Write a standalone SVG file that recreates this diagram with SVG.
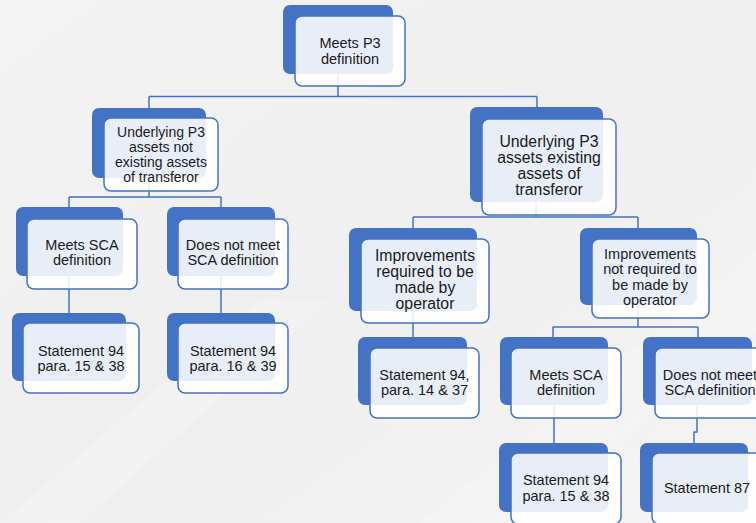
<svg xmlns="http://www.w3.org/2000/svg" width="756" height="523" viewBox="0 0 756 523">
<defs>
<linearGradient id="bg" x1="0" y1="0" x2="1" y2="1">
<stop offset="0" stop-color="#f3f3f3"/>
<stop offset="0.5" stop-color="#efefef"/>
<stop offset="1" stop-color="#f4f4f4"/>
</linearGradient>
<style>
.back{fill:#4472c4;}
.front{fill:#ffffff;fill-opacity:0.88;stroke:#4472c4;stroke-width:1.5;}
.conn{fill:none;stroke:#4472c4;stroke-width:1.5;}
text{font-family:"Liberation Sans",Arial,sans-serif;font-size:14.5px;fill:#1a1a1a;text-anchor:middle;}
.big{font-size:15.8px;}
.tight{font-size:14px;}
</style>
</defs>
<rect x="0" y="0" width="756" height="523" fill="url(#bg)"/>
<polygon points="0,523 260,300 330,300 80,523" fill="#ffffff" opacity="0.2"/>
<polygon points="420,523 756,250 756,330 520,523" fill="#ffffff" opacity="0.18"/>
<g id="connectors">
<path class="conn" d="M338,74 V96.5 M149,96.5 H537 M149,96.5 V108 M537,96.5 V107"/>
<path class="conn" d="M149,178 V197 M69,197 H221 M69,197 V207 M221,197 V207"/>
<path class="conn" d="M69,276 V313 M221,276 V313"/>
<path class="conn" d="M536,202 V217 M413,217 H638 M413,217 V228 M638,217 V228"/>
<path class="conn" d="M413,311 V337"/>
<path class="conn" d="M638,305 V327 M553,327 H698 M553,327 V337 M698,327 V337"/>
<path class="conn" d="M554,405 V443 M697,405 V432 H694 V443"/>
</g>
<g id="n1">
<rect class="back" x="283" y="5" width="110" height="69" rx="7"/>
<rect class="front" x="295" y="16" width="110" height="70" rx="7"/>
<text x="350" y="48">Meets P3</text>
<text x="350" y="64">definition</text>
</g>
<g id="n2">
<rect class="back" x="92" y="108" width="114" height="70" rx="7"/>
<rect class="front" x="104" y="118" width="114" height="73" rx="7"/>
<text class="tight" x="161" y="137">Underlying P3</text>
<text class="tight" x="161" y="152">assets not</text>
<text class="tight" x="161" y="167">existing assets</text>
<text class="tight" x="161" y="182">of transferor</text>
</g>
<g id="n3">
<rect class="back" x="470" y="107" width="133" height="95" rx="7"/>
<rect class="front" x="482" y="119" width="134" height="96" rx="7"/>
<text class="big" x="549" y="147">Underlying P3</text>
<text class="big" x="549" y="163">assets existing</text>
<text class="big" x="549" y="179">assets of</text>
<text class="big" x="549" y="195">transferor</text>
</g>
<g id="n4">
<rect class="back" x="16" y="207" width="107" height="69" rx="7"/>
<rect class="front" x="27" y="219" width="110" height="70" rx="7"/>
<text x="82" y="250">Meets SCA</text>
<text x="82" y="265">definition</text>
</g>
<g id="n5">
<rect class="back" x="167" y="207" width="108" height="69" rx="7"/>
<rect class="front" x="178" y="219" width="110" height="70" rx="7"/>
<text x="233" y="250">Does not meet</text>
<text x="233" y="265">SCA definition</text>
</g>
<g id="n6">
<rect class="back" x="12" y="313" width="114" height="68" rx="7"/>
<rect class="front" x="23" y="323" width="116" height="70" rx="7"/>
<text x="81" y="356">Statement 94</text>
<text x="81" y="371">para. 15 &amp; 38</text>
</g>
<g id="n7">
<rect class="back" x="167" y="313" width="108" height="68" rx="7"/>
<rect class="front" x="178" y="323" width="110" height="70" rx="7"/>
<text x="233" y="356">Statement 94</text>
<text x="233" y="371">para. 16 &amp; 39</text>
</g>
<g id="n8">
<rect class="back" x="349" y="228" width="128" height="83" rx="7"/>
<rect class="front" x="361" y="239" width="128" height="84" rx="7"/>
<text class="big" x="425" y="261">Improvements</text>
<text class="big" x="425" y="277">required to be</text>
<text class="big" x="425" y="293">made by</text>
<text class="big" x="425" y="309">operator</text>
</g>
<g id="n9">
<rect class="back" x="580" y="228" width="117" height="77" rx="7"/>
<rect class="front" x="592" y="239" width="117" height="79" rx="7"/>
<text x="650" y="259">Improvements</text>
<text x="650" y="274">not required to</text>
<text x="650" y="290">be made by</text>
<text x="650" y="305">operator</text>
</g>
<g id="n10">
<rect class="back" x="358" y="337" width="109" height="68" rx="7"/>
<rect class="front" x="370" y="348" width="109" height="70" rx="7"/>
<text x="424.5" y="380">Statement 94,</text>
<text x="424.5" y="395">para. 14 &amp; 37</text>
</g>
<g id="n11">
<rect class="back" x="500" y="337" width="108" height="68" rx="7"/>
<rect class="front" x="511" y="348" width="110" height="70" rx="7"/>
<text x="566" y="380">Meets SCA</text>
<text x="566" y="395">definition</text>
</g>
<g id="n12">
<rect class="back" x="643" y="337" width="109" height="68" rx="7"/>
<rect class="front" x="655" y="348" width="110" height="70" rx="7"/>
<text x="710" y="380">Does not meet</text>
<text x="710" y="395">SCA definition</text>
</g>
<g id="n13">
<rect class="back" x="499" y="443" width="109" height="69" rx="7"/>
<rect class="front" x="511" y="453" width="110" height="71" rx="7"/>
<text x="566" y="485">Statement 94</text>
<text x="566" y="501">para. 15 &amp; 38</text>
</g>
<g id="n14">
<rect class="back" x="640" y="443" width="108" height="69" rx="7"/>
<rect class="front" x="652" y="453" width="110" height="71" rx="7"/>
<text x="707" y="493">Statement 87</text>
</g>
</svg>
